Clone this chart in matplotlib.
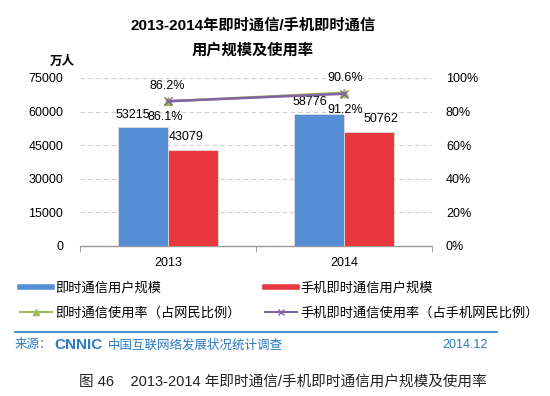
import matplotlib
matplotlib.use("Agg")
import matplotlib.pyplot as plt
from matplotlib.lines import Line2D
import numpy as np

plt.rcParams["font.family"] = ["Liberation Sans", "Noto Sans CJK SC", "DejaVu Sans"]

# data
years = ["2013", "2014"]
im_users = [53215, 58776]
mobile_im_users = [43079, 50762]
im_rate = [86.1, 91.2]
mobile_im_rate = [86.2, 90.6]

yticks_left = [0, 15000, 30000, 45000, 60000, 75000]
yticks_right = [0, 20, 40, 60, 80, 100]

BLUE = "#558ed5"
RED = "#e8383d"
GREEN = "#9bbb59"
PURPLE = "#8064a2"
SRC_BLUE = "#2a7ac0"

fig = plt.figure(figsize=(5.5, 3.96), dpi=100)

ax = fig.add_axes([80 / 550, 1 - 246 / 396, 352 / 550, 168 / 396])
x = np.arange(len(years))
w = 0.284
ax.bar(x - w / 2, im_users, w, color=BLUE, edgecolor="#dddddd", linewidth=0.6, zorder=3)
ax.bar(x + w / 2, mobile_im_users, w, color=RED, edgecolor="#dddddd", linewidth=0.6, zorder=3)
ax.set_xlim(-0.5, 1.5)
ax.set_ylim(0, 75000)
ax.set_yticks(yticks_left)
ax.set_yticklabels([str(v) for v in yticks_left], fontsize=9)
ax.set_xticks(x)
ax.set_xticklabels(years, fontsize=9)
ax.set_xticks([-0.5, 0.5, 1.5], minor=True)
ax.tick_params(axis="x", which="major", length=0, pad=8)
ax.tick_params(axis="x", which="minor", length=4, color="#999999")
ax.tick_params(axis="y", length=0, pad=12)
ax.grid(axis="y", linestyle=(0, (4, 3)), color="#d0d0d0", linewidth=0.8, zorder=0)
for s in ["top", "right", "left"]:
    ax.spines[s].set_visible(False)
ax.spines["bottom"].set_color("#999999")
ax.spines["bottom"].set_linewidth(1.0)

# bar value labels
bar_offsets = [(-10, 12), (-9, 12)]
mob_offsets = [(-7, 13), (12, 13)]
for i in range(len(years)):
    ax.annotate(str(im_users[i]), (x[i] - w / 2, im_users[i]), textcoords="offset pixels",
                xytext=bar_offsets[i], ha="center", va="center", fontsize=9)
    ax.annotate(str(mobile_im_users[i]), (x[i] + w / 2, mobile_im_users[i]), textcoords="offset pixels",
                xytext=mob_offsets[i], ha="center", va="center", fontsize=9)

ax2 = ax.twinx()
ax2.set_ylim(0, 100)
ax2.set_yticks(yticks_right)
ax2.set_yticklabels([f"{v}%" for v in yticks_right], fontsize=9)
ax2.tick_params(axis="y", length=0, pad=10)
for s in ["top", "right", "left", "bottom"]:
    ax2.spines[s].set_visible(False)
ax2.plot(x, im_rate, color=GREEN, marker="^", markersize=6, linewidth=1.8, zorder=4)
ax2.plot(x, mobile_im_rate, color=PURPLE, marker="x", markersize=6, linewidth=1.8, zorder=5)

rate_offsets = [(-3, -16), (1, -17)]
mrate_offsets = [(-1, 15), (1, 16)]
for i in range(len(years)):
    ax2.annotate(f"{im_rate[i]}%", (x[i], im_rate[i]), textcoords="offset pixels",
                 xytext=rate_offsets[i], ha="center", va="center", fontsize=9)
    ax2.annotate(f"{mobile_im_rate[i]}%", (x[i], mobile_im_rate[i]), textcoords="offset pixels",
                 xytext=mrate_offsets[i], ha="center", va="center", fontsize=9)

# titles
fig.text(253 / 550, 1 - 25 / 396, "2013-2014年即时通信/手机即时通信", ha="center", va="center",
         fontsize=11, fontweight="bold")
fig.text(253 / 550, 1 - 50 / 396, "用户规模及使用率", ha="center", va="center",
         fontsize=11, fontweight="bold")
fig.text(62 / 550, 1 - 62 / 396, "万人", ha="center", va="center", fontsize=9, fontweight="bold")

# legend
h1 = [Line2D([], [], color=BLUE, lw=4), Line2D([], [], color=GREEN, lw=1.5, marker="^", markersize=5)]
h2 = [Line2D([], [], color=RED, lw=4), Line2D([], [], color=PURPLE, lw=1.5, marker="x", markersize=5)]
fig.legend(h1, ["即时通信用户规模", "即时通信使用率（占网民比例）"], loc="upper left",
           bbox_to_anchor=(8 / 550, 1 - 270 / 396), frameon=False, fontsize=9.5,
           handlelength=2.4, handletextpad=0.3, labelspacing=0.95)
fig.legend(h2, ["手机即时通信用户规模", "手机即时通信使用率（占手机网民比例）"], loc="upper left",
           bbox_to_anchor=(253 / 550, 1 - 270 / 396), frameon=False, fontsize=9.5,
           handlelength=2.4, handletextpad=0.3, labelspacing=0.95)

# source bar
fig.add_artist(Line2D([15 / 550, 497 / 550], [1 - 332 / 396] * 2, color=SRC_BLUE, lw=1.2))
fig.text(15 / 550, 1 - 345 / 396, "来源：", color=SRC_BLUE, fontsize=9, va="center")
fig.text(54 / 550, 1 - 345 / 396, "CNNIC", color=SRC_BLUE, fontsize=11, fontweight="bold",
         va="center")
fig.text(108 / 550, 1 - 345 / 396, "中国互联网络发展状况统计调查", color=SRC_BLUE, fontsize=9, va="center")
fig.text(488 / 550, 1 - 345 / 396, "2014.12", color=SRC_BLUE, fontsize=9, va="center", ha="right")

fig.text(283 / 550, 1 - 382 / 396, "图 46    2013-2014 年即时通信/手机即时通信用户规模及使用率",
         ha="center", va="center", fontsize=10.5, fontweight="medium", color="#222222")

fig.savefig("out.png", dpi=100)
